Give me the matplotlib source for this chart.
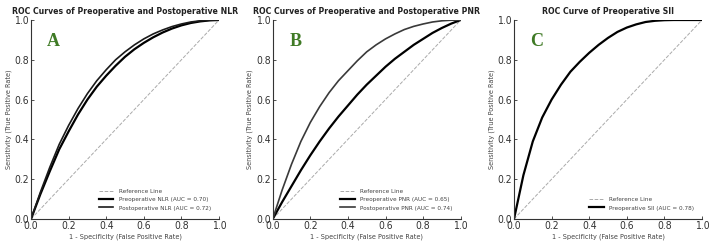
import matplotlib
matplotlib.use("Agg")
import matplotlib.pyplot as plt

plt.rcParams["font.stretch"] = "condensed"

fpr = [0.0, 0.05, 0.1, 0.15, 0.2, 0.25, 0.3, 0.35, 0.4, 0.45, 0.5,
       0.55, 0.6, 0.65, 0.7, 0.75, 0.8, 0.85, 0.9, 0.95, 1.0]

nlr_pre = [0, 0.125, 0.24, 0.35, 0.44, 0.525, 0.60, 0.665, 0.72, 0.77, 0.815,
           0.853, 0.885, 0.913, 0.937, 0.957, 0.973, 0.985, 0.993, 0.998, 1.0]
nlr_post = [0, 0.135, 0.26, 0.375, 0.47, 0.555, 0.63, 0.695, 0.75, 0.80, 0.84,
            0.875, 0.905, 0.93, 0.95, 0.967, 0.98, 0.99, 0.996, 0.999, 1.0]

pnr_pre = [0, 0.085, 0.165, 0.245, 0.32, 0.39, 0.455, 0.515, 0.57, 0.625, 0.675,
           0.72, 0.765, 0.805, 0.84, 0.875, 0.905, 0.935, 0.96, 0.982, 1.0]
pnr_post = [0, 0.145, 0.275, 0.39, 0.485, 0.565, 0.635, 0.695, 0.745, 0.795, 0.84,
            0.875, 0.905, 0.93, 0.952, 0.968, 0.98, 0.99, 0.996, 0.999, 1.0]

sii_pre = [0, 0.22, 0.39, 0.51, 0.60, 0.675, 0.74, 0.79, 0.835, 0.875, 0.91,
           0.94, 0.962, 0.978, 0.99, 0.996, 0.999, 1.0, 1.0, 1.0, 1.0]

titles = ["ROC Curves of Preoperative and Postoperative NLR",
          "ROC Curves of Preoperative and Postoperative PNR",
          "ROC Curve of Preoperative SII"]
panel_letters = ["A", "B", "C"]
ticks = [0.0, 0.2, 0.4, 0.6, 0.8, 1.0]
tick_labels = ["0.0", "0.2", "0.4", "0.6", "0.8", "1.0"]

panels = [
    [("Preoperative NLR (AUC = 0.70)", nlr_pre, "#000000", 1.6),
     ("Postoperative NLR (AUC = 0.72)", nlr_post, "#1a1a1a", 1.2)],
    [("Preoperative PNR (AUC = 0.65)", pnr_pre, "#000000", 1.6),
     ("Postoperative PNR (AUC = 0.74)", pnr_post, "#3a3a3a", 1.2)],
    [("Preoperative SII (AUC = 0.78)", sii_pre, "#000000", 1.6)],
]

fig = plt.figure(figsize=(7.13, 2.46), dpi=100)
lefts = [31 / 713, 272.7 / 713, 514 / 713]
for i, left in enumerate(lefts):
    ax = fig.add_axes([left, 27 / 246, 188 / 713, 199 / 246])
    ax.plot([0, 1], [0, 1], linestyle="--", color="#aaaaaa", lw=0.7,
            label="Reference Line")
    for label, ys, col, lw in panels[i]:
        ax.plot(fpr, ys, color=col, lw=lw, label=label)
    ax.set_xlim(0, 1)
    ax.set_ylim(0, 1)
    ax.set_xticks(ticks)
    ax.set_xticklabels(tick_labels)
    ax.set_yticks(ticks)
    ax.set_yticklabels(tick_labels)
    for s in ["top", "right"]:
        ax.spines[s].set_visible(False)
    for s in ["left", "bottom"]:
        ax.spines[s].set_color("#333333")
        ax.spines[s].set_linewidth(0.8)
    ax.tick_params(direction="in", length=2.5, width=0.6, labelsize=7.5,
                   colors="#333333", pad=1.5)
    ax.set_title(titles[i], fontsize=6.2, fontweight="bold", color="#222222", pad=4)
    ax.set_xlabel("1 - Specificity (False Positive Rate)", fontsize=5.2,
                  color="#444444", labelpad=2)
    ax.set_ylabel("Sensitivity (True Positive Rate)", fontsize=5.2,
                  color="#444444", labelpad=2)
    ax.text(0.12, 0.89, panel_letters[i], transform=ax.transAxes,
            fontsize=13, fontweight="bold",
            family=["Liberation Serif", "DejaVu Serif"],
            color="#3f7a25", ha="center", va="center")
    ax.legend(loc="lower right", frameon=False, fontsize=4.6,
              handlelength=2.3, handletextpad=0.8, labelspacing=0.45,
              borderaxespad=0.9, labelcolor="#444444")

fig.savefig("out.png", dpi=100)
